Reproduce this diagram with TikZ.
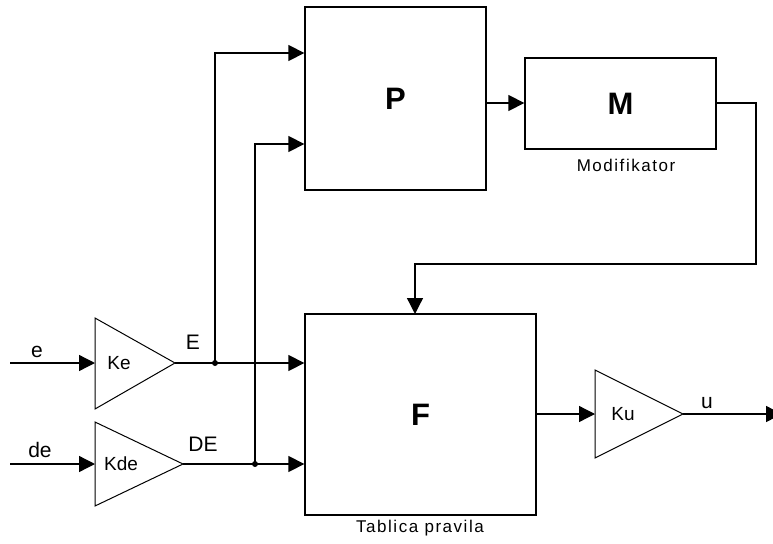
\documentclass[tikz,border=0pt]{standalone}
\usepackage{fontspec}
\setmainfont{Liberation Sans}
\newfontfamily\spacedfont[LetterSpace=9]{Liberation Sans}
\usetikzlibrary{arrows.meta}
\begin{document}
\begin{tikzpicture}[x=1pt,y=-1pt,
  wire/.style={line width=1.3pt},
  sig/.style={wire,-{Triangle[length=16pt,width=16pt]}},
  blk/.style={draw,line width=1.3pt,inner sep=0pt,font=\bfseries\fontsize{31}{31}\selectfont},
  gain/.style={line width=1pt},
  lbl/.style={inner sep=0pt,font=\fontsize{21}{21}\selectfont},
  glbl/.style={inner sep=0pt,font=\fontsize{19}{19}\selectfont},
  captxt/.style={inner sep=0pt,font=\spacedfont\fontsize{17}{17}\selectfont},
  jdot/.style={circle,fill,inner sep=0pt,minimum size=6pt}]
\useasboundingbox (0,0) rectangle (773,543);
% blocks
\node[blk,minimum width=181pt,minimum height=183pt] (P) at (395.5,98.5) {P};
\node[blk,minimum width=191pt,minimum height=91pt] (M) at (620.5,103.5) {M};
\node[blk,minimum width=231pt,minimum height=201pt] (F) at (420.5,414.5) {F};
\node[captxt] (mcap) at (626,165) {Modifikator};
\node[captxt] (fcap) at (420,528) {Tablica pravila};
% gain triangles
\coordinate (keA) at (95,318); \coordinate (keB) at (95,409); \coordinate (keout) at (175,363); \coordinate (kein) at (95,363);
\coordinate (kdA) at (95,422); \coordinate (kdB) at (95,506); \coordinate (kdout) at (183,464); \coordinate (kdin) at (95,464);
\coordinate (kuA) at (595,370); \coordinate (kuB) at (595,458); \coordinate (kuout) at (683,414); \coordinate (kuin) at (595,414);
\draw[gain] (keA) -- (keout) -- (keB) -- cycle;
\draw[gain] (kdA) -- (kdout) -- (kdB) -- cycle;
\draw[gain] (kuA) -- (kuout) -- (kuB) -- cycle;
\node[glbl] (ke) at (119,363) {Ke};
\node[glbl] (kde) at (121,464) {Kde};
\node[glbl] (ku) at (623,414) {Ku};
% inputs
\coordinate (ein) at (10,363);
\coordinate (dein) at (10,464);
\draw[sig] (ein) -- (kein);
\draw[sig] (dein) -- (kdin);
\node[lbl] (elbl) at (37,352) {e};
\node[lbl] (delbl) at (40,450) {de};
\node[lbl] (Elbl) at (193,342) {E};
\node[lbl] (DElbl) at (203,444) {DE};
% junctions
\node[jdot] (jE) at (215,363) {};
\node[jdot] (jDE) at (255,464) {};
\coordinate (pin1) at (P.west |- 0,53);
\coordinate (pin2) at (P.west |- 0,144);
\coordinate (fin1) at (F.west |- 0,363);
\coordinate (fin2) at (F.west |- 0,464);
\draw[wire] (keout) -- (jE.center);
\draw[sig] (jE.center) -- (fin1);
\draw[sig] (jE.center) |- (pin1);
\draw[wire] (kdout) -- (jDE.center);
\draw[sig] (jDE.center) -- (fin2);
\draw[sig] (jDE.center) |- (pin2);
% P -> M
\coordinate (pout) at (P.east |- 0,103);
\coordinate (min) at (M.west |- 0,103);
\draw[sig] (pout) -- (min);
% M -> F feedback
\coordinate (mout) at (M.east |- 0,103);
\coordinate (c1) at (756,103);
\coordinate (c2) at (756,264);
\coordinate (c3) at (415,264);
\coordinate (ftop) at (415,314);
\draw[sig] (mout) -- (c1) -- (c2) -- (c3) -- (ftop);
% F -> Ku -> out
\coordinate (fout) at (F.east |- 0,414);
\draw[sig] (fout) -- (kuin);
\coordinate (uout) at (782,414);
\draw[sig] (kuout) -- (uout);
\node[lbl] (ulbl) at (707,403) {u};
\end{tikzpicture}
\end{document}
